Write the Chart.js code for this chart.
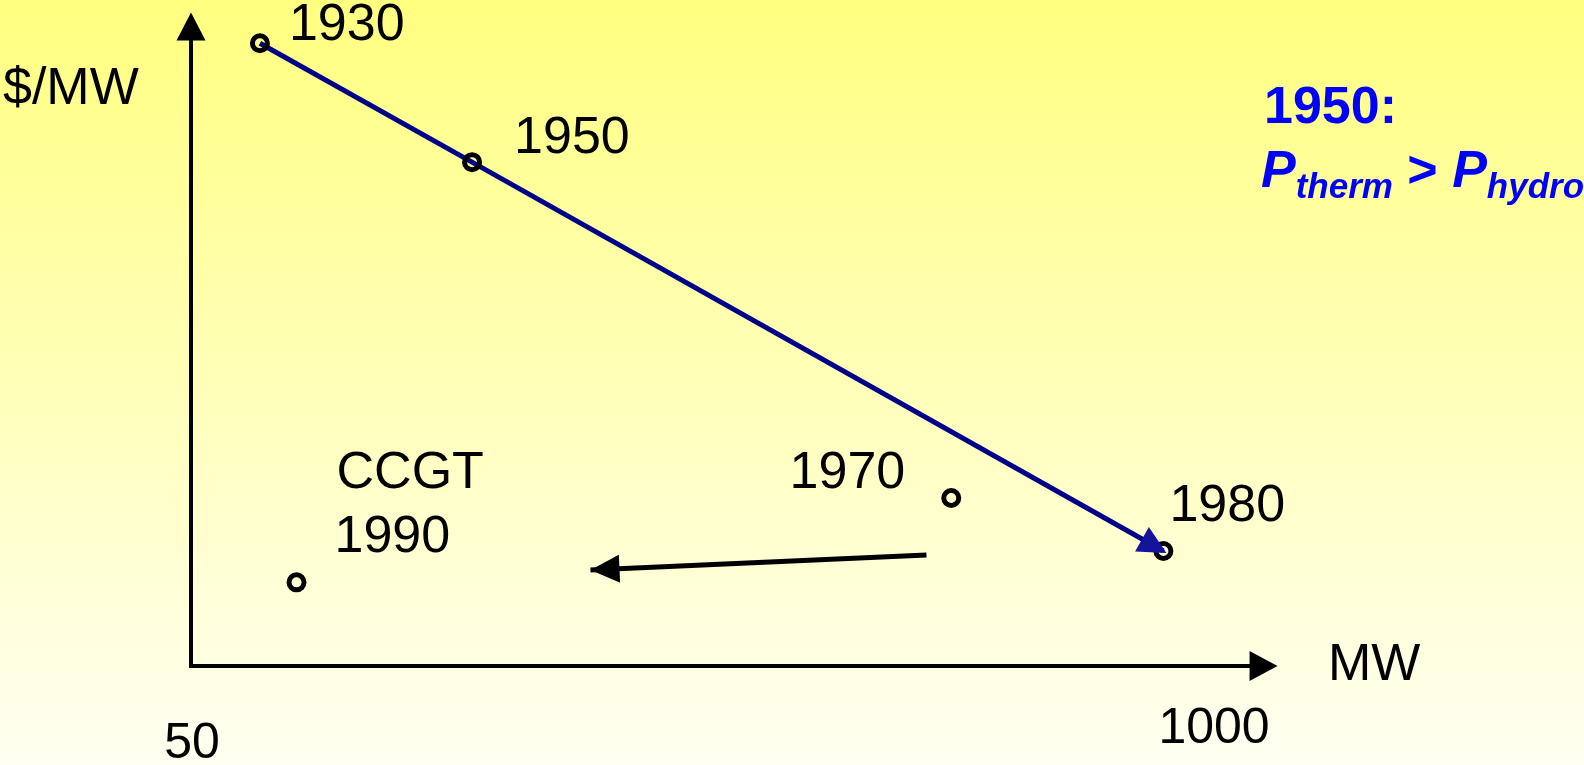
<!DOCTYPE html>
<html>
<head>
<meta charset="utf-8">
<script src="https://cdn.jsdelivr.net/npm/chart.js@4/dist/chart.umd.min.js"></script>
<style>
    html, body { margin: 0; padding: 0; }
    body {
        width: 1584px;
        height: 765px;
        overflow: hidden;
        background: linear-gradient(to bottom, #FFFF80 0%, #FFFFF2 100%);
    }
    canvas { display: block; }
</style>
</head>
<body>
<canvas id="costChart" width="1584" height="765"></canvas>
<script>
// plant size (MW) vs specific cost ($/MW, relative units)
const years = ['1930', '1950', '1970', '1980', '1990'];
const sizeMW = [114, 311, 756, 953, 148];
const costPerMW = [95.3, 77.1, 25.7, 17.6, 12.8];

// 1930 -> 1950 -> 1980 trend line
const trendMW = [114, 311, 953];
const trendCost = [95.3, 77.1, 17.6];

// 1970s -> CCGT shift back to smaller units
const shiftMW = [733, 421];
const shiftCost = [17.0, 14.7];

const tickValues = [50, 1000];
const tickLabels = ['50', '1000'];
const axisMax = { x: 1059, y: 100 };

const FONT = '"Liberation Sans", Arial, sans-serif';

function toXY(xs, ys) {
    return xs.map(function(x, i) { return { x: x, y: ys[i] }; });
}

function drawHead(ctx, x0, y0, x1, y1, len, width, color) {
    const a = Math.atan2(y1 - y0, x1 - x0);
    const bx = x1 - len * Math.cos(a);
    const by = y1 - len * Math.sin(a);
    const nx = -Math.sin(a) * width / 2;
    const ny = Math.cos(a) * width / 2;
    ctx.fillStyle = color;
    ctx.beginPath();
    ctx.moveTo(x1, y1);
    ctx.lineTo(bx + nx, by + ny);
    ctx.lineTo(bx - nx, by - ny);
    ctx.closePath();
    ctx.fill();
}

const decorations = {
    id: 'decorations',
    beforeDatasetsDraw: function(chart) {
        const ctx = chart.ctx;
        const xs = chart.scales.x;
        const ys = chart.scales.y;
        const ox = xs.getPixelForValue(tickValues[0]);
        const oy = ys.getPixelForValue(0);
        const tx = xs.getPixelForValue(axisMax.x);
        const ty = ys.getPixelForValue(axisMax.y);

        ctx.save();
        ctx.strokeStyle = '#000';
        ctx.lineWidth = 4;
        ctx.lineCap = 'square';
        ctx.beginPath();
        ctx.moveTo(ox, ty + 20);
        ctx.lineTo(ox, oy);
        ctx.lineTo(tx - 20, oy);
        ctx.stroke();
        drawHead(ctx, ox, oy, ox, ty, 28, 29, '#000');
        drawHead(ctx, ox, oy, tx, oy, 28, 30, '#000');
        ctx.restore();
    },
    afterDatasetsDraw: function(chart) {
        const ctx = chart.ctx;
        const xs = chart.scales.x;
        const ys = chart.scales.y;
        const px = function(v) { return xs.getPixelForValue(v); };
        const py = function(v) { return ys.getPixelForValue(v); };

        ctx.save();
        // arrow heads
        const n = trendMW.length;
        drawHead(ctx, px(trendMW[n - 2]), py(trendCost[n - 2]),
            px(trendMW[n - 1]) + 3, py(trendCost[n - 1]) + 2, 28, 28, '#14149A');
        drawHead(ctx, px(shiftMW[0]), py(shiftCost[0]),
            px(shiftMW[1]), py(shiftCost[1]), 29, 28, '#000');

        // axis texts
        ctx.fillStyle = '#000';
        ctx.font = '52px ' + FONT;
        ctx.textBaseline = 'alphabetic';
        ctx.textAlign = 'left';
        ctx.fillText('$/MW', 3, 104);
        ctx.fillText('MW', 1328, 680);
        ctx.font = '50px ' + FONT;
        ctx.textAlign = 'center';
        ctx.fillText(tickLabels[0], px(tickValues[0]) + 1, 758);
        ctx.fillText(tickLabels[1], px(tickValues[1]), 743);

        // year labels next to the points
        ctx.font = '52px ' + FONT;
        const offsets = {
            '1930': [29, -3, 'left'],
            '1950': [42, -9, 'left'],
            '1970': [-46, -10, 'right'],
            '1980': [6, -30, 'left'],
            '1990': [38, -30, 'left']
        };
        years.forEach(function(y, i) {
            const o = offsets[y];
            const x = px(sizeMW[i]) + o[0];
            const yy = py(costPerMW[i]) + o[1];
            ctx.textAlign = o[2];
            ctx.fillText(y, x, yy);
            if (y === '1990') ctx.fillText('CCGT', x + 2, yy - 64);
        });

        // note in blue
        ctx.fillStyle = '#0000FF';
        ctx.textAlign = 'left';
        ctx.font = 'bold 52px ' + FONT;
        ctx.fillText('1950:', 1264, 123);
        let x = 1261;
        const big = 'italic bold 52px ' + FONT;
        const small = 'italic bold 35px ' + FONT;
        const parts = [
            ['P', big, 0], ['therm', small, 11], [' > ', 'bold 52px ' + FONT, 0],
            ['P', big, 0], ['hydro', small, 11]
        ];
        parts.forEach(function(p) {
            ctx.font = p[1];
            ctx.fillText(p[0], x, 187 + p[2]);
            x += ctx.measureText(p[0]).width;
        });
        ctx.restore();
    }
};

new Chart(document.getElementById('costChart').getContext('2d'), {
    type: 'scatter',
    data: {
        datasets: [{
            data: toXY(sizeMW, costPerMW),
            pointRadius: 7.5,
            pointBorderWidth: 5,
            pointBorderColor: '#000',
            pointBackgroundColor: 'rgba(0,0,0,0)',
            showLine: false,
            order: 0
        }, {
            data: toXY(trendMW, trendCost),
            showLine: true,
            borderColor: '#000088',
            borderWidth: 5,
            pointRadius: 0,
            order: 1
        }, {
            data: toXY(shiftMW, shiftCost),
            showLine: true,
            borderColor: '#000',
            borderWidth: 5,
            pointRadius: 0,
            order: 1
        }]
    },
    options: {
        responsive: false,
        animation: false,
        clip: false,
        layout: { padding: { left: 191, right: 370, top: 12, bottom: 99 } },
        scales: {
            x: { type: 'linear', display: false, min: 50, max: 1000 },
            y: { type: 'linear', display: false, min: 0, max: 100 }
        },
        plugins: {
            legend: { display: false },
            tooltip: { enabled: false }
        }
    },
    plugins: [decorations]
});
</script>
</body>
</html>
